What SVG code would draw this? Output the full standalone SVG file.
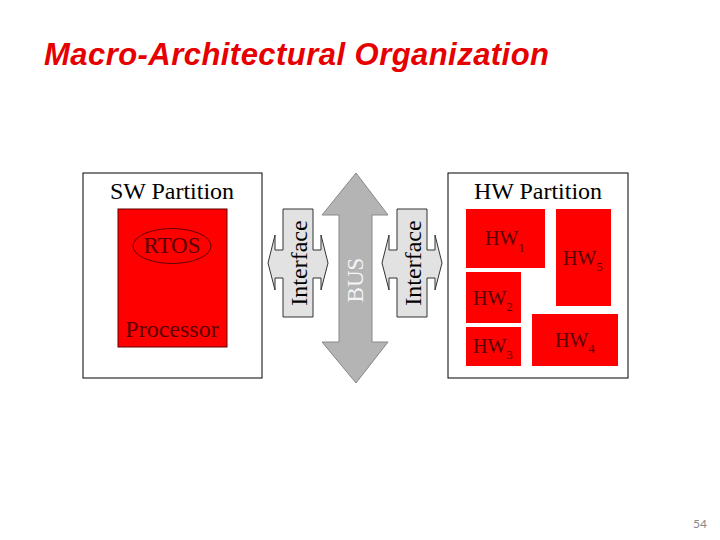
<svg xmlns="http://www.w3.org/2000/svg" width="720" height="540" viewBox="0 0 720 540">
<style>
.part{fill:#fff;stroke:#000;stroke-width:1}
.red{fill:#ff0000}
.lbl{font-family:"Liberation Serif","Times New Roman",serif;fill:#5a0000}
.hw{font-family:"Liberation Serif","Times New Roman",serif;font-size:20px;fill:#5a0000}
.sub{font-size:13px}
.title{font-family:"Liberation Serif","Times New Roman",serif;font-size:24px;fill:#000;text-anchor:middle}
.iface{fill:#e2e2e2;stroke:#333;stroke-width:1}
</style>
<rect width="720" height="540" fill="#fff"/>
<text x="44" y="65" font-family="Liberation Sans,Arial,sans-serif" font-size="31" font-weight="bold" font-style="italic" fill="#e60000" textLength="505">Macro-Architectural Organization</text>

<g id="sw-partition">
<rect class="part" x="83" y="173" width="179" height="205"/>
<text class="title" x="172" y="199">SW Partition</text>
</g>
<g id="processor">
<rect class="red" x="118" y="209" width="109" height="138" stroke="#600000" stroke-width="1"/>
<text class="lbl" x="172" y="337" font-size="24" text-anchor="middle">Processor</text>
</g>
<g id="rtos">
<ellipse cx="172" cy="246" rx="39" ry="17.5" fill="none" stroke="#600000" stroke-width="1"/>
<text class="lbl" x="172" y="253" font-size="23" text-anchor="middle">RTOS</text>
</g>

<g id="hw-partition">
<rect class="part" x="448" y="173" width="180" height="205"/>
<text class="title" x="538" y="199">HW Partition</text>
</g>
<g id="hw1"><rect class="red" x="466" y="209" width="79" height="59"/><text class="hw" x="485" y="245">HW<tspan class="sub" dy="7">1</tspan></text></g>
<g id="hw5"><rect class="red" x="556" y="209" width="55" height="97"/><text class="hw" x="563" y="265">HW<tspan class="sub" dy="6">5</tspan></text></g>
<g id="hw2"><rect class="red" x="466" y="272" width="55" height="51"/><text class="hw" x="473" y="305">HW<tspan class="sub" dy="6">2</tspan></text></g>
<g id="hw3"><rect class="red" x="466" y="327" width="55" height="39"/><text class="hw" x="473" y="353">HW<tspan class="sub" dy="6">3</tspan></text></g>
<g id="hw4"><rect class="red" x="532" y="314" width="86" height="52"/><text class="hw" x="555" y="347">HW<tspan class="sub" dy="6">4</tspan></text></g>

<g id="connectors">
<g id="interface-left">
<polygon class="iface" points="283,209 313,209 313,250 321,250 321,235 328,263 321,290 321,278 313,278 313,317 283,317 283,278 275,278 275,290 268,263 275,235 275,250 283,250"/>
<text transform="translate(307,263) rotate(-90)" font-family="Liberation Serif,Times New Roman,serif" font-size="24" fill="#000" text-anchor="middle">Interface</text>
</g>
<g id="bus">
<polygon points="356,173 388,215 372,215 372,342 388,342 356,383 322,342 339,342 339,215 322,215" fill="#b4b4b4" stroke="#888" stroke-width="1"/>
<text transform="translate(363,280) rotate(-90)" font-family="Liberation Serif,Times New Roman,serif" font-size="23" fill="#f4f4f4" text-anchor="middle">BUS</text>
</g>
<g id="interface-right">
<polygon class="iface" points="397,209 427,209 427,250 435,250 435,235 442,263 435,290 435,278 427,278 427,317 397,317 397,278 389,278 389,290 382,263 389,235 389,250 397,250"/>
<text transform="translate(421,263) rotate(-90)" font-family="Liberation Serif,Times New Roman,serif" font-size="24" fill="#000" text-anchor="middle">Interface</text>
</g>
</g>

<text x="707" y="528" font-family="Lato,Liberation Sans,sans-serif" font-size="12" fill="#888" text-anchor="end">54</text>
</svg>
